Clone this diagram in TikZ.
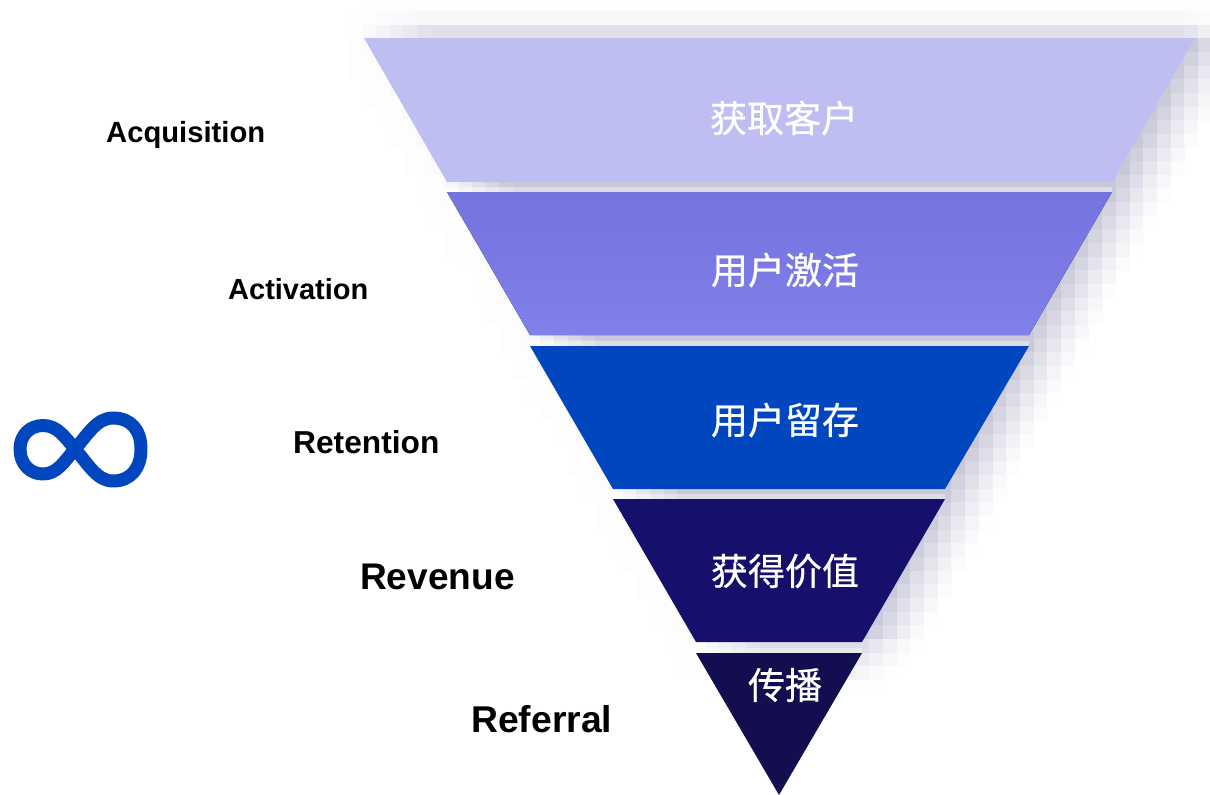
\documentclass[tikz,border=0pt]{standalone}
\usepackage{fontspec}
\setmainfont{Liberation Sans}
\newfontfamily\cjk[RawFeature={embolden=0.6}]{Noto Sans CJK SC}
\definecolor{shadowc}{RGB}{60,60,120}
\definecolor{fOne}{HTML}{BEBEF3}
\definecolor{fTwoT}{HTML}{7573DF}
\definecolor{fTwoB}{HTML}{8080EA}
\definecolor{fThree}{HTML}{0047BF}
\definecolor{fFour}{HTML}{15106B}
\definecolor{fFive}{HTML}{120E50}
\tikzset{
  cjklabel/.style={text=white,inner sep=0pt,font=\cjk\fontsize{37}{37}\selectfont},
  enlabel/.style={text=black,inner sep=0pt,anchor=west,font=\bfseries\fontsize{#1}{#1}\selectfont},
  gapveil/.style={fill=white,fill opacity=.38}
}
\begin{document}
\begin{tikzpicture}[x=1pt,y=-1pt]
\useasboundingbox (0,0) rectangle (1210,795);
% blocky blurred shadow of the funnel
\foreach \i in {-1,...,50}{
  \pgfmathsetmacro\yy{11+13.65*\i}
  \pgfmathsetmacro\yc{\yy+6.8}
  \pgfmathsetmacro\xr{\yc<38 ? 1184 : 1195-0.55*(\yc-38)}
  \pgfmathsetmacro\xl{364+0.55*(\yc-38)}
  \pgfmathsetmacro\vv{\yc<11 ? 0.02 : (\yc<25 ? 0.13 : (\yc<38 ? 0.55 : (\yc<642 ? 1 : max(0,(690-\yc)/70))))}
  \foreach \j in {0,...,62}{
    \pgfmathsetmacro\xx{348.6+13.7*\j}
    \pgfmathsetmacro\dr{\xx+6.8-\xr}
    \pgfmathsetmacro\dl{\xx+6.8-\xl}
    \pgfmathsetmacro\gg{\dr<0 ? 1 : pow(max(0,1-\dr/60),1.3)}
    \pgfmathsetmacro\hh{\dl<-30 ? 0 : (\dl<0 ? 0.04 : min(1,0.04+\dl/70))}
    \pgfmathsetmacro\tt{28*\gg*\hh*\vv}
    \pgfmathparse{\tt>0.2 ? 1 : 0}
    \ifnum\pgfmathresult=1
      \fill[shadowc!\tt!white] (\xx,\yy) rectangle (\xx+14.1,\yy+14.05);
    \fi
  }
}
% lighter lower half of each gap
\fill[gapveil] (447,187.3) rectangle (1112,192);
\fill[gapveil] (530,340.5) rectangle (1029,346);
\fill[gapveil] (613,494.2) rectangle (945,499);
\fill[gapveil] (696,648) rectangle (862,653);
% funnel
\fill[fOne] (364,38) -- (1195,38) -- (1112,182) -- (447,182) -- cycle;
\fill[top color=fTwoT,bottom color=fTwoB] (447,192) -- (1112,192) -- (1029,335) -- (530,335) -- cycle;
\fill[fThree] (530,346) -- (1029,346) -- (945,489) -- (613,489) -- cycle;
\fill[fFour] (613,499) -- (945,499) -- (862,642) -- (696,642) -- cycle;
\fill[fFive] (696,653) -- (862,653) -- (779,795) -- cycle;
% funnel labels
\node[cjklabel] (tOne) at (784,118) {获取客户};
\node[cjklabel] (tTwo) at (785,270) {用户激活};
\node[cjklabel] (tThree) at (785,420) {用户留存};
\node[cjklabel] (tFour) at (785,571) {获得价值};
\node[cjklabel] (tFive) at (785,685) {传播};
% side labels
\node[enlabel=29.2] (eOne) at (106,135) {Acquisition};
\node[enlabel=29] (eTwo) at (228,289) {Activation};
\node[enlabel=31.7] (eThree) at (293,442) {Retention};
\node[enlabel=37.1] (eFour) at (360,576.5) {Revenue};
\node[enlabel=37.3] (eFive) at (471,719) {Referral};
% infinity
\draw[fThree,line width=13pt,line join=round]
  (75,449) .. controls (88,434) and (97,418) .. (113,418)
  .. controls (131,418) and (141,430) .. (141,449)
  .. controls (141,468) and (131,481) .. (113,481)
  .. controls (97,481) and (88,464) .. (75,449)
  .. controls (64,436) and (57,425.5) .. (43,425.5)
  .. controls (30,425.5) and (20,435) .. (20,449)
  .. controls (20,464) and (30,474) .. (43,474)
  .. controls (57,474) and (64,462) .. (75,449) -- cycle;
\end{tikzpicture}
\end{document}
